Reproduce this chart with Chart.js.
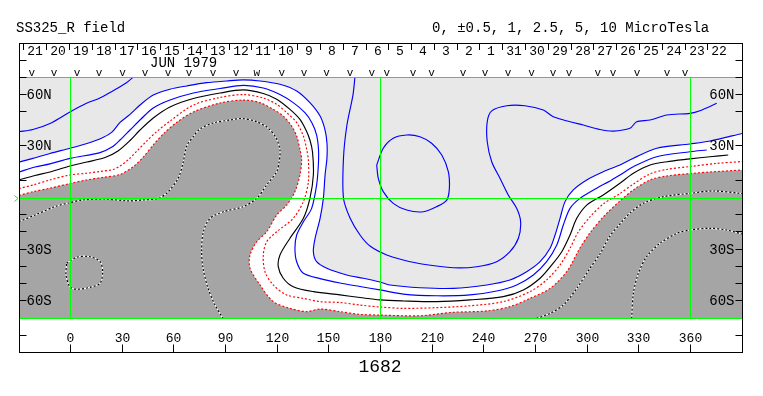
<!DOCTYPE html>
<html><head><meta charset="utf-8">
<script src="https://cdn.jsdelivr.net/npm/chart.js@4"></script>
<style>html,body{margin:0;padding:0;background:#fff;}canvas{display:block;}</style>
</head><body>
<canvas id="c" width="763" height="396"></canvas>
<script>
// ---------- text ----------
const titleText = 'SS325_R field';
const unitsText = '0, \u00b10.5, 1, 2.5, 5, 10 MicroTesla';
const monthText = 'JUN 1979';
const rotationText = '1682';

// ---------- axes ----------
const lonMin = -30, lonMax = 390;
const latMin = -70, latMax = 70;
const lonTicks = [0, 30, 60, 90, 120, 150, 180, 210, 240, 270, 300, 330, 360];
const latTicks = [60, 50, 30, 10, -10, -20, -30, -40, -50, -60];
const latTickLabels = ['60N', '', '30N', '', '', '', '30S', '', '', '60S'];
const gridLons = [0, 180, 360];
const gridLats = [0];

// ---------- date header ----------
const dayLabels = ['21','20','19','18','17','16','15','14','13','12','11','10','9','8','7','6','5','4','3','2','1','31','30','29','28','27','26','25','24','23','22'];
const dayLons = [-27.1,-13.9,-0.6,12.6,25.9,39.1,52.4,65.6,78.9,92.1,105.3,118.6,131.8,145.1,158.3,171.6,184.8,198.1,211.3,224.6,237.8,251.0,264.3,277.5,290.8,304.0,317.3,330.5,343.8,357.0,370.2];
const obsLons = [-22.6,-9.7,3.7,16.5,30.2,43.2,56.6,68.8,82.7,96.1,108.1,122.6,135.6,148.7,162.3,174.9,183.6,198.9,209.7,227.9,240.7,254.1,267.8,280.2,289.5,306.3,315.1,329.0,346.4,356.9];
const obsMarks = ['v','v','v','v','v','v','v','v','v','v','w','v','v','v','v','v','v','v','v','v','v','v','v','v','v','v','v','v','v','v'];

// ---------- contours [lon, lat] ----------
// +2.5
const pos25a = [[-30,38.2],[-21.9,39.5],[-12,43],[-0.4,49.7],[8.9,54.6],[17,57.8],[24,61.6],[32.2,66.5],[37,70.5]];
const pos25b = [[165.2,70.5],[164,59.5],[160.5,42.1],[158.5,23],[158.5,-0.3],[162.3,-11.9],[168.1,-21.8],[173.9,-28.2],[183.6,-33.4],[193.2,-36.3],[204.9,-38.8],[222.3,-40.8],[235.9,-40.2],[247.5,-37.3],[255.2,-31.5],[260.1,-23.7],[261.4,-14.1],[259.1,-6.3],[254.2,1.5],[249.4,11.2],[244.6,20.8],[242,32.4],[242,44],[244.6,50.3],[253.3,53.3],[263.9,53.3],[274.6,50.8],[280.4,46.9],[290.1,44],[297.8,42.1],[307.5,39.5],[315.2,38.6],[324.9,40.2],[328.8,44],[336.6,45],[346.3,47.9],[359.8,48.9],[365.6,50.4],[375.3,54.7]];
const pos25c = [[177.8,18.9],[181.6,28.6],[187.4,34.4],[195.2,36.3],[202.9,35.3],[209.7,31.5],[215.6,24.7],[219.4,15],[220,5.3],[218.5,-1.5],[212.7,-5.3],[204.9,-8.3],[195.2,-7.3],[187.4,-3.4],[181.6,3.4],[178.7,11.2],[177.8,18.9]];
// +1
const pos10 = [[-30,20.6],[-21.9,22.7],[-12,25.6],[-0.4,28.6],[9.5,31.4],[18.2,34.6],[24,38],[28.7,43.6],[34.5,48.3],[40.3,53.7],[48,59.5],[57.7,62.9],[67.4,64.8],[79,66.7],[90.7,67.7],[100.3,68.3],[110,67.7],[121.6,65.8],[131.3,61.9],[139,55.1],[144.9,47.3],[147.8,39.2],[148.9,31.7],[148.9,23],[147.8,13.1],[146.8,-0.5],[144.9,-12.1],[142,-23.7],[141,-31.5],[142.9,-37.3],[148.8,-41.1],[160.4,-45],[170,-46.9],[179.7,-49.1],[185.5,-50.8],[202.9,-52.4],[222.3,-52.8],[241.7,-50.8],[255.2,-47.9],[264.9,-43.1],[272.7,-37.3],[278.5,-29.5],[281.4,-21.8],[284.3,-12.1],[287.2,-2.4],[292,4.4],[299.8,10.2],[309.4,15],[319.1,18.9],[326.9,22.8],[340.5,28.6],[359.8,31.1],[371.4,32.8],[390,37.2]];
// +0.5
const pos05 = [[-30,14.8],[-20.7,17.7],[-12,19.5],[-0.4,22.7],[17.1,26.1],[24,29.3],[28.7,33.4],[34.5,39.2],[40.9,45.6],[48,52],[57.7,56.6],[71.3,60.7],[86.8,63.3],[100.3,65.1],[111.9,63.6],[121.6,59.8],[129.3,55.1],[136.1,49.3],[140.2,43.3],[142.9,36.3],[144,27.6],[143.9,18.9],[142.9,7.3],[140,-6.3],[135.2,-14.1],[131.3,-21.8],[130.3,-29.5],[131.3,-37.3],[135.2,-44],[144.9,-47.1],[156.5,-49.7],[168.1,-51.7],[179.7,-53.7],[193.2,-56.1],[212.6,-57.1],[232,-56.6],[247.5,-54.3],[259.1,-50.8],[268.8,-45],[276.5,-37.3],[282.4,-27.6],[286.2,-16],[290.1,-6.3],[295.9,-0.5],[305.6,5.4],[313.3,9.6],[319.1,13.1],[326.9,17.9],[340.4,23.7],[359.8,26.6],[369.5,27.6]];
// 0 (neutral line)
const zero00 = [[-30,10.2],[-20.7,12.8],[-12,14.8],[-0.4,18.3],[9.5,20.6],[20,23.2],[27.5,27],[34.5,33.1],[40.3,39.2],[48,46.2],[57.7,52.6],[71.3,57.5],[86.8,60.7],[100.3,62.5],[111.9,60.4],[119.7,57.1],[127.4,51.2],[133.2,45.4],[136.7,39.2],[139,33.4],[140.5,26.4],[141,13.1],[139,-0.5],[135.2,-12.1],[127.4,-23.7],[121.6,-33.4],[120.6,-40.2],[123.5,-46.9],[129.3,-51.8],[141,-54.7],[156.5,-56.6],[168.1,-58.1],[179.7,-59.5],[193.2,-60.1],[212.6,-60.5],[232,-59.5],[251.3,-57.6],[263,-53.7],[272.7,-46.9],[279.5,-39.2],[285.3,-31.5],[290.1,-21.8],[294,-12.1],[299.8,-4.4],[309.4,1.5],[319.1,8.3],[326.9,14.1],[336.6,18.9],[346.3,20.8],[359.8,22.4],[371.4,23.7],[382,24.7]];
// -0.5
const neg05 = [[-30,5.2],[-21.7,7.3],[-12,10.2],[-0.4,13.1],[9.3,14.1],[17.1,15.1],[24.8,16.3],[28.7,18.3],[33.3,21.8],[38.5,27],[44.2,32.8],[50,38.3],[57.7,44.4],[71.3,53.7],[86.8,58.1],[100.3,59.8],[111.9,57.8],[119.7,54.1],[125.5,49.3],[131.3,43.5],[135.2,35.7],[137.1,28],[138.1,21.8],[138.1,9.2],[135.2,-2.4],[129.3,-12.1],[119.7,-19.9],[113.9,-25.7],[111.9,-33.4],[112.9,-43.1],[117.7,-50.8],[125.5,-56.6],[135.2,-58.6],[144.9,-60.5],[156.5,-61],[168.1,-62.5],[179.7,-63.6],[193.2,-64.4],[212.6,-64],[232,-62.9],[251.3,-60.5],[266.8,-54.7],[276.5,-47.9],[284.3,-39.2],[290.1,-29.5],[294.9,-20],[301.7,-11.3],[309.4,-3.8],[319.1,2.3],[326.9,7.8],[336.6,13.7],[346.3,16.3],[359.8,18],[375.3,19.8],[390,20.9]];
// -1
const neg10 = [[-30,1.2],[-21.7,3.4],[-12,5.4],[-0.4,8.1],[9.3,10.2],[19,11.7],[28.7,13.4],[36.4,17.9],[42.2,23.5],[48,30.5],[53.8,36.9],[61.6,43.6],[71.3,49.7],[86.8,54.9],[100.3,56.6],[110,55.1],[117.7,51.2],[123.5,47.3],[128.4,41.5],[131.3,35.7],[133.2,28],[134.2,21.8],[133.2,13.1],[130.3,3.4],[125.5,-4.4],[119.7,-10.2],[113.9,-19.9],[108.1,-25.7],[104.2,-33.4],[104.2,-41.1],[110,-50.8],[117.7,-60.5],[127.4,-64.4],[137.1,-66.3],[144.9,-64.8],[156.5,-66.3],[168.1,-67.9],[179.7,-68.3],[202.9,-68.7],[222.3,-66.7],[241.7,-65.9],[255.2,-63.4],[266.8,-58.6],[278.5,-52.8],[288.2,-43.1],[295.9,-29.3],[301.7,-20.6],[309.4,-11.3],[319.1,-2],[326.9,4.4],[336.6,10.2],[346.3,12.5],[359.8,13.9],[371.4,14.8],[390,16]];
// -2.5
const neg25a = [[-30,-14.1],[-20.7,-10.2],[-9.1,-5.3],[-0.4,-3],[6.4,-1.5],[20,-0.9],[33.5,-2],[41.3,-1.5],[50.9,-0.5],[56.7,3.4],[62.5,11.2],[65.3,20],[67.4,29.9],[71.1,35.2],[75.1,39.8],[82.9,43.3],[92.6,45],[99.5,45.9],[108.1,44],[114.6,40.4],[119.3,34.6],[121.6,27.6],[121,20],[119.7,15],[113.9,7.3],[108.1,-0.5],[100.3,-5.3],[88.7,-8.3],[81,-12.1],[77.1,-19.9],[76.1,-31.5],[76.9,-41],[79.8,-52.6],[83.9,-62.5],[88.5,-70.3]];
const neg25b = [[-2.3,-38.2],[3.5,-34.7],[11.2,-34.4],[17.1,-37.3],[18.6,-43.1],[17.1,-49.8],[11.2,-52.2],[3.5,-53.3],[-0.4,-51.8],[-2.7,-45],[-2.3,-38.2]];
const neg25c = [[270.7,-70.3],[278.5,-67.3],[286.2,-62.5],[294,-52.8],[301.7,-41.1],[307.5,-32.8],[313.3,-22.4],[319.1,-15.4],[324.9,-9],[332.7,-3.4],[344.3,0.5],[359.8,2.4],[373.3,3.8],[390,2.3]];
// -5
const neg50 = [[325.9,-70.3],[326.9,-55.7],[329.8,-44],[334.6,-34.4],[342.4,-26.6],[352.1,-20.8],[359.8,-18.9],[371.4,-17.9],[381.1,-18.9],[390,-21.2]];

// ---------- styles ----------
const LIGHT = '#e8e8e8', DARK = '#a5a5a5', GREEN = '#00ff00';
const BLUE = '#0000ff', RED = '#ff0000';
const MONO = '"Liberation Mono", "DejaVu Sans Mono", monospace';

const toXY = pts => pts.map(p => ({x: p[0], y: p[1]}));
function region(pts) { // close a contour that runs edge to edge down to the south edge
  const f = pts[0], l = pts[pts.length - 1];
  return toXY([...pts, [l[0] + 6, l[1]], [l[0] + 6, -85], [f[0] - 6, -85], [f[0] - 6, f[1]]]);
}
function fillDs(label, pts, color) {
  return {label, data: region(pts), borderWidth: 0, borderColor: 'transparent', backgroundColor: color, fill: 'shape', pointRadius: 0, tension: 0.3, clip: 0};
}
function lineDs(label, pts, color, dash) {
  return {label, data: toXY(pts), borderColor: color, borderWidth: 1.15, borderDash: dash || [], fill: false, pointRadius: 0, tension: 0.3};
}

// bottom -> top drawing order
const datasets = [
  fillDs('posFill', pos10, '#ffffff'),
  fillDs('negFill', neg10, DARK),
  lineDs('n25a_w', neg25a, '#ffffff'), lineDs('n25a', neg25a, '#000000', [2, 2]),
  lineDs('n25b_w', neg25b, '#ffffff'), lineDs('n25b', neg25b, '#000000', [2, 2]),
  lineDs('n25c_w', neg25c, '#ffffff'), lineDs('n25c', neg25c, '#000000', [2, 2]),
  lineDs('n50_w', neg50, '#ffffff'), lineDs('n50', neg50, '#000000', [2, 2]),
  lineDs('n10', neg10, RED, [2, 2]),
  lineDs('n05', neg05, RED, [2, 2]),
  lineDs('z00', zero00, '#000000'),
  lineDs('p05', pos05, BLUE),
  lineDs('p10', pos10, BLUE),
  lineDs('p25a', pos25a, BLUE),
  lineDs('p25b', pos25b, BLUE),
  lineDs('p25c', pos25c, BLUE)
];
datasets.forEach((d, i) => { d.order = datasets.length - i; });

const deco = {
  id: 'deco',
  beforeDatasetsDraw(chart) {
    const {ctx, chartArea: a} = chart;
    ctx.save();
    ctx.fillStyle = LIGHT;
    ctx.fillRect(a.left, a.top, a.right - a.left, a.bottom - a.top);
    ctx.restore();
  },
  afterDraw(chart) {
    const {ctx, chartArea: a} = chart;
    const xs = chart.scales.x, ys = chart.scales.y;
    const X = v => xs.getPixelForValue(v), Y = v => ys.getPixelForValue(v);

    // green reference grid (on top of the contours, as in the source map)
    ctx.save();
    ctx.fillStyle = GREEN;
    const top = Math.round(a.top), bot = Math.round(a.bottom);
    const left = Math.round(a.left), right = Math.round(a.right);
    gridLons.forEach(lon => { ctx.fillRect(Math.floor(X(lon)), top, 1, bot - top + 1); });
    gridLats.forEach(lat => { ctx.fillRect(left, Math.round(Y(lat)), right - left, 1); });
    ctx.fillRect(left, top, right - left, 1);
    ctx.fillRect(left, bot, right - left, 1);
    ctx.strokeStyle = GREEN; ctx.lineWidth = 1;
    const ye = Math.round(Y(0)) + 0.5;
    ctx.beginPath(); ctx.moveTo(14.5, ye - 3); ctx.lineTo(18, ye); ctx.lineTo(14.5, ye + 3); ctx.stroke();
    ctx.restore();

    const L = a.left + 0.5, R = a.right + 0.5, T = 43.5, B = 352.5;
    ctx.save();
    ctx.strokeStyle = '#000'; ctx.lineWidth = 1;
    ctx.strokeRect(L, T, R - L, B - T);
    ctx.beginPath();
    [60.5, 77.5, 335.5].forEach(y => { ctx.moveTo(L, y); ctx.lineTo(L + 7, y); ctx.moveTo(R, y); ctx.lineTo(R - 7, y); });
    latTicks.forEach(lat => { const y = Math.floor(Y(lat)) + 0.5; ctx.moveTo(L, y); ctx.lineTo(L + 7, y); ctx.moveTo(R, y); ctx.lineTo(R - 7, y); });
    lonTicks.forEach(lon => { const x = Math.floor(X(lon)) + 0.5; ctx.moveTo(x, B); ctx.lineTo(x, B - 8); });
    dayLons.forEach(lon => { const x = Math.floor(X(lon)) + 0.5; ctx.moveTo(x, 44); ctx.lineTo(x, 50); });
    ctx.stroke();

    ctx.fillStyle = '#000';
    ctx.textBaseline = 'alphabetic';
    ctx.font = '14px ' + MONO;
    ctx.textAlign = 'left';
    ctx.fillText(titleText, 16, 32);
    ctx.fillText(unitsText, 432, 32);
    ctx.fillText(monthText, 150, 67);

    ctx.font = '13px ' + MONO;
    ctx.textAlign = 'center';
    dayLabels.forEach((t, i) => ctx.fillText(t, Math.floor(X(dayLons[i])) + 12, 55));
    lonTicks.forEach(lon => ctx.fillText(String(lon), Math.floor(X(lon)) + 0.5, 342));

    ctx.font = '11px ' + MONO;
    obsLons.forEach((lon, i) => ctx.fillText(obsMarks[i], X(lon), 76));

    ctx.font = '14px ' + MONO;
    ctx.textBaseline = 'middle';
    latTicks.forEach((lat, i) => {
      const t = latTickLabels[i]; if (!t) return;
      const y = Math.floor(Y(lat)) + 1;
      ctx.textAlign = 'left'; ctx.fillText(t, L + 7, y);
      ctx.textAlign = 'right'; ctx.fillText(t, R - 8, y);
    });

    ctx.font = '18px ' + MONO;
    ctx.textAlign = 'center'; ctx.textBaseline = 'alphabetic';
    ctx.fillText(rotationText, 380, 372);
    ctx.restore();
  }
};

new Chart(document.getElementById('c'), {
  type: 'line',
  data: {datasets},
  options: {
    responsive: false,
    animation: false,
    events: [],
    layout: {padding: {left: 19, right: 21, top: 77, bottom: 78}},
    scales: {
      x: {type: 'linear', min: lonMin, max: lonMax, display: false},
      y: {type: 'linear', min: latMin, max: latMax, display: false}
    },
    plugins: {legend: {display: false}, tooltip: {enabled: false}},
    elements: {point: {radius: 0}}
  },
  plugins: [deco]
});
</script>
</body></html>
